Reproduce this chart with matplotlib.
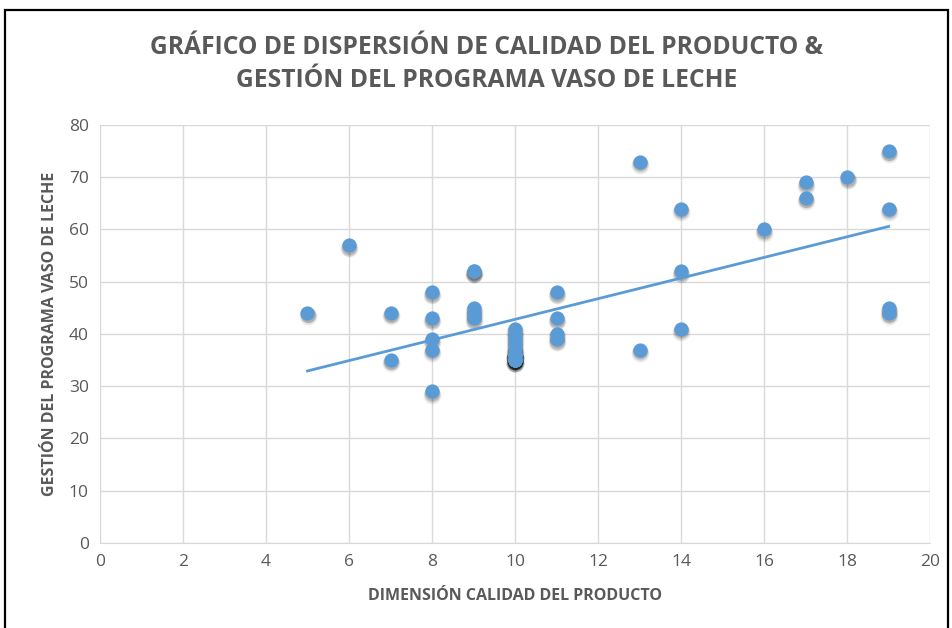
import numpy as np
import matplotlib.pyplot as plt
import matplotlib.transforms as mtransforms
from matplotlib.patches import Rectangle

# data (the dark cluster at x=10 holds several stacked points)
calidad = [5, 6, 7, 7, 8, 8, 8, 8, 8, 9, 9, 9, 9, 9,
           10, 10, 10, 10, 10, 10, 10, 10, 10, 10, 10, 10, 10, 10, 10, 10, 10,
           11, 11, 11, 11, 13, 13, 14, 14, 14, 16, 17, 17, 18, 19, 19, 19, 19]
gestion = [44, 57, 44, 35, 48, 43, 39, 37, 29, 52, 52, 45, 44, 43,
           41, 40, 39, 38, 37, 36, 35, 36, 35, 35, 36, 37, 36, 35, 36, 35, 36,
           48, 43, 40, 39, 73, 37, 64, 52, 41, 60, 69, 66, 70, 75, 64, 45, 44]

title = "GRÁFICO DE DISPERSIÓN DE CALIDAD DEL PRODUCTO &\nGESTIÓN DEL PROGRAMA VASO DE LECHE"
xlabel = "DIMENSIÓN CALIDAD DEL PRODUCTO"
ylabel = "GESTIÓN DEL PROGRAMA VASO DE LECHE"

plt.rcParams['font.family'] = ['Open Sans', 'DejaVu Sans']

blue = '#5b9bd5'
grey = '#595959'

fig = plt.figure(figsize=(9.52, 6.28), dpi=100)
ax = fig.add_axes([0.105, 0.1354, 0.872, 0.6656])

# outer frame of the chart
fig.patches.append(Rectangle((5 / 952, -0.05), 943 / 952, 1.05 - 10 / 628,
                             transform=fig.transFigure, fill=False,
                             edgecolor='black', linewidth=1.6))

x = np.array(calidad)
y = np.array(gestion)

# soft shadow under the markers (a few layers to blur it)
for dy, size, a in [(-2.2, 165, 0.08), (-1.7, 135, 0.12), (-1.2, 115, 0.14)]:
    shadow = mtransforms.offset_copy(ax.transData, fig=fig, x=0.3, y=dy, units='points')
    ax.scatter(x, y, s=size, color='black', alpha=a, transform=shadow, zorder=2, linewidths=0)
ax.scatter(x, y, s=105, color=blue, zorder=3, linewidths=0)

# linear trend line
m, b = np.polyfit(x, y, 1)
xs = np.array([x.min(), x.max()])
ax.plot(xs, m * xs + b, color=blue, linewidth=2, zorder=4)

ax.set_xlim(0, 20)
ax.set_ylim(0, 80)
ax.set_xticks(range(0, 21, 2))
ax.set_yticks(range(0, 81, 10))
ax.grid(True, color='#d9d9d9', linewidth=1)
ax.set_axisbelow(True)
for s in ['top', 'right', 'left']:
    ax.spines[s].set_visible(False)
ax.spines['bottom'].set_color('#d9d9d9')
ax.tick_params(length=0, labelsize=12.5, colors=grey, pad=8)

ax.set_xlabel(xlabel, fontsize=11.5, fontweight='bold', color=grey, labelpad=13)
ax.set_ylabel(ylabel, fontsize=11.5, fontweight='bold', color=grey, labelpad=8)
fig.text(0.511, 0.898, title, ha='center', va='center', fontsize=17.7,
         fontweight='bold', color=grey, linespacing=1.45)

fig.savefig('out.png', dpi=100)
